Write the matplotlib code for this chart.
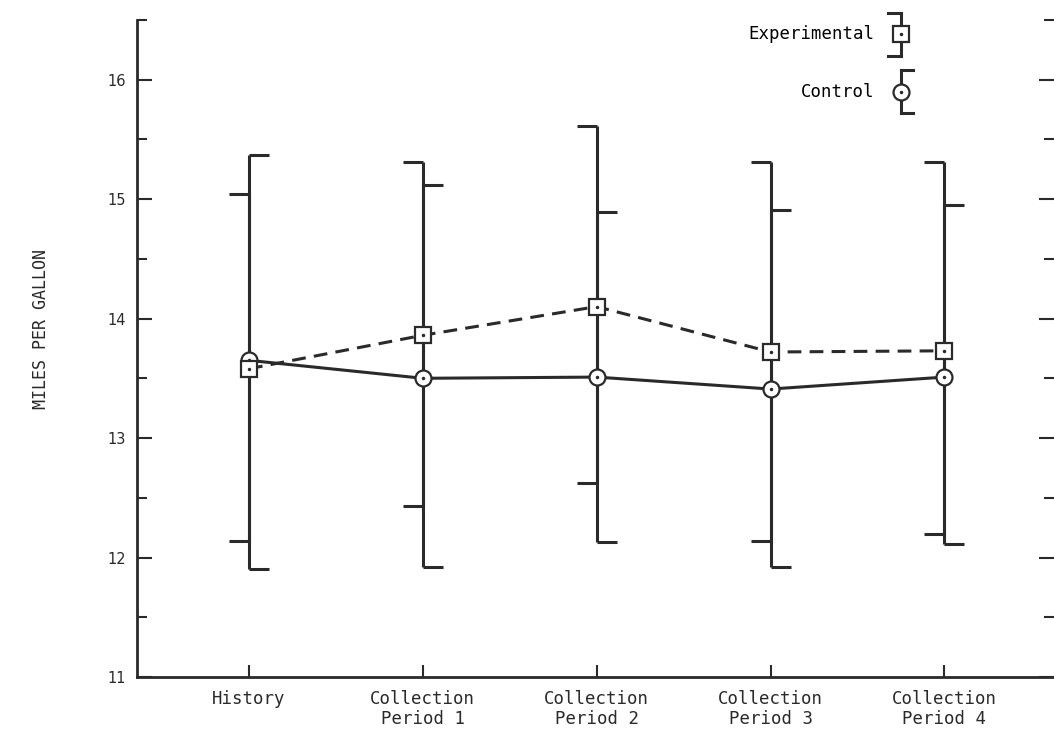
"""Miles per gallon by period, experimental vs control, with range bars."""

import numpy as np
import matplotlib
matplotlib.use("Agg")
import matplotlib.pyplot as plt
from matplotlib.lines import Line2D
from matplotlib.legend_handler import HandlerBase
from matplotlib.ticker import MultipleLocator

periods = ["History", "Collection\nPeriod 1", "Collection\nPeriod 2",
           "Collection\nPeriod 3", "Collection\nPeriod 4"]

exp_mean = [13.58, 13.86, 14.10, 13.72, 13.73]
exp_low = [12.14, 12.43, 12.62, 12.14, 12.20]
exp_high = [15.04, 15.31, 15.61, 15.31, 15.31]

ctl_mean = [13.65, 13.50, 13.51, 13.41, 13.51]
ctl_low = [11.90, 11.92, 12.13, 11.92, 12.11]
ctl_high = [15.37, 15.12, 14.89, 14.91, 14.95]

INK = "#2a2a2a"
MONO = "DejaVu Sans Mono"
LW = 2.2
CAP = 0.115


class BracketHandler(HandlerBase):
    """Legend glyph: vertical bar, caps on one side, marker in the middle."""

    def __init__(self, side, marker):
        super().__init__()
        self.side = side
        self.marker = marker

    def create_artists(self, legend, orig_handle, xdescent, ydescent,
                       width, height, fontsize, trans):
        cx = width / 2 - xdescent
        y0, y1 = -ydescent, height - ydescent
        cy = (y0 + y1) / 2
        cw = width * 0.42 * self.side
        kw = dict(color=INK, lw=LW, solid_capstyle="projecting")
        arts = [
            Line2D([cx, cx], [y0, y1], **kw),
            Line2D([cx, cx + cw], [y1, y1], **kw),
            Line2D([cx, cx + cw], [y0, y0], **kw),
            Line2D([cx], [cy], marker=self.marker, ms=11.5, mfc="white",
                   mec=INK, mew=1.6, ls="none"),
            Line2D([cx], [cy], marker=".", ms=3, color=INK, ls="none"),
        ]
        for a in arts:
            a.set_transform(trans)
        return arts


fig = plt.figure(figsize=(10.54, 7.37), dpi=100)
ax = fig.add_axes([0.130, 0.0814, 0.870, 0.8917])

x = np.arange(1, len(periods) + 1)

# range bars: experimental caps point left, control caps point right
ax.vlines(x, exp_low, exp_high, color=INK, lw=LW, zorder=2)
ax.vlines(x, ctl_low, ctl_high, color=INK, lw=LW, zorder=2)
ax.hlines(exp_high, x - CAP, x, color=INK, lw=LW, zorder=2)
ax.hlines(exp_low, x - CAP, x, color=INK, lw=LW, zorder=2)
ax.hlines(ctl_high, x, x + CAP, color=INK, lw=LW, zorder=2)
ax.hlines(ctl_low, x, x + CAP, color=INK, lw=LW, zorder=2)

ax.plot(x, ctl_mean, color=INK, lw=LW, zorder=3)
ax.plot(x, exp_mean, color=INK, lw=LW, dashes=(4.5, 2.7), zorder=3)

ax.plot(x, ctl_mean, "o", ms=11.5, mfc="white", mec=INK, mew=1.6, zorder=4)
ax.plot(x, ctl_mean, ".", ms=3, color=INK, zorder=5)
ax.plot(x, exp_mean, "s", ms=11.5, mfc="white", mec=INK, mew=1.6, zorder=6)
ax.plot(x, exp_mean, ".", ms=3, color=INK, zorder=7)

ax.set_xlim(0.356, 5.63)
ax.set_ylim(11, 16.5)
ax.set_xticks(x)
ax.set_xticklabels(periods, fontfamily=MONO, fontsize=12.5, color=INK,
                   linespacing=1.15)
ax.yaxis.set_major_locator(MultipleLocator(1))
ax.yaxis.set_minor_locator(MultipleLocator(0.5))
for lab in ax.get_yticklabels():
    lab.set_fontsize(10.5)
    lab.set_color(INK)

ax.spines["top"].set_visible(False)
ax.spines["right"].set_visible(False)
for s in ("left", "bottom"):
    ax.spines[s].set_linewidth(2)
    ax.spines[s].set_color(INK)

ax.tick_params(axis="y", which="major", direction="in", length=11, width=1.5,
               pad=8, colors=INK, right=True)
ax.tick_params(axis="y", which="minor", direction="in", length=7, width=1.5,
               colors=INK, right=True)
ax.tick_params(axis="x", direction="in", length=9, width=1.5, pad=9, colors=INK)

ax.set_ylabel("MILES PER GALLON", fontfamily=MONO, fontsize=12, color=INK)
ax.yaxis.set_label_coords(-0.095, 0.53)

h_exp = Line2D([], [])
h_ctl = Line2D([], [])
fig.legend([h_exp, h_ctl], ["Experimental", "Control"],
           handler_map={h_exp: BracketHandler(-1, "s"),
                        h_ctl: BracketHandler(1, "o")},
           loc="upper right", bbox_to_anchor=(915 / 1054, 1 - 13 / 737),
           bbox_transform=fig.transFigure, frameon=False, markerfirst=False,
           borderpad=0, borderaxespad=0, handlelength=1.66, handleheight=3.4,
           handletextpad=0.66, labelspacing=0.85,
           prop={"family": MONO, "size": 12.5})

fig.savefig("out.png", dpi=100)
